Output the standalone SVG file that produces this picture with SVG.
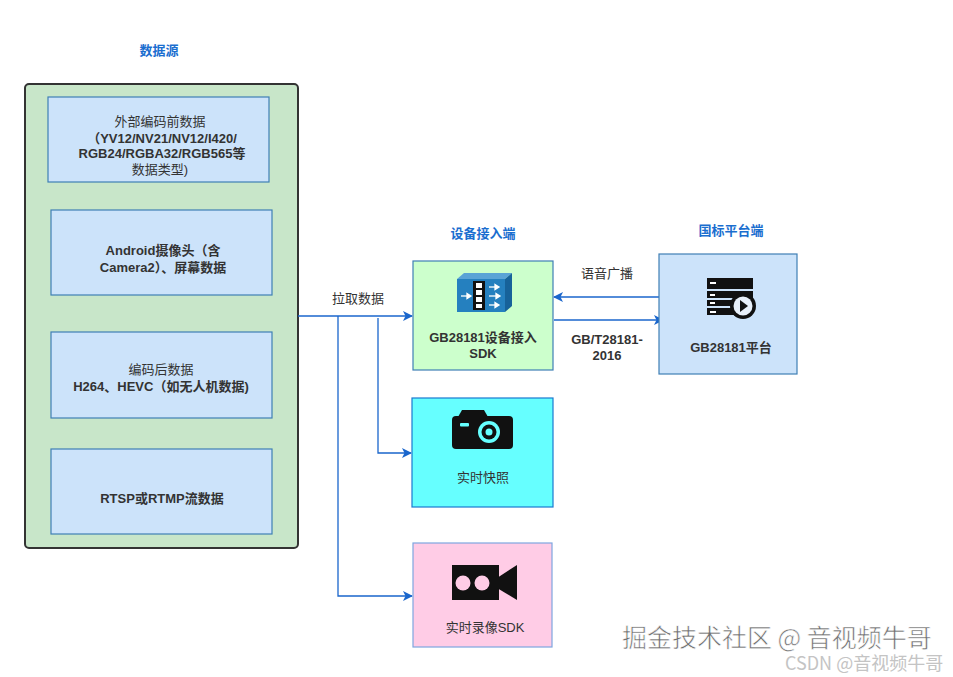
<svg xmlns="http://www.w3.org/2000/svg" width="953" height="677" viewBox="0 0 953 677">
<defs>
<style>
.t{font-family:"Liberation Sans","Noto Sans CJK SC",sans-serif;font-size:13px;fill:#333;text-anchor:middle;dominant-baseline:central}
.b{font-weight:bold}
.title{font-family:"Liberation Sans","Noto Sans CJK SC",sans-serif;font-size:13px;font-weight:bold;fill:#1a6ecf;text-anchor:middle;dominant-baseline:central}
.src{fill:#cce3fa;stroke:#3f7fb5;stroke-width:1.2}
.conn{fill:none;stroke:#1a66cc;stroke-width:1.3}
.wm{font-family:"Noto Sans CJK SC","Liberation Sans",sans-serif}
</style>
<marker id="arr" viewBox="0 0 10 10" refX="9" refY="5" markerWidth="10" markerHeight="10" markerUnits="userSpaceOnUse" orient="auto">
<path d="M0,0 L10,5 L0,10 L2.5,5 Z" fill="#1a66cc"/>
</marker>
</defs>
<rect width="953" height="677" fill="#ffffff"/>

<text class="title" x="159" y="50">数据源</text>
<text class="title" x="483" y="233">设备接入端</text>
<text class="title" x="731" y="230">国标平台端</text>

<g id="datasource">
<rect x="25" y="84" width="273" height="464" rx="4" fill="#c8e6c9" stroke="#333" stroke-width="2"/>
</g>
<g id="src1">
<rect class="src" x="48" y="97" width="221" height="85"/>
<text class="t" x="160" y="121">外部编码前数据</text>
<text class="t b" x="162" y="138">（YV12/NV21/NV12/I420/</text>
<text class="t b" x="162" y="153">RGB24/RGBA32/RGB565等</text>
<text class="t" x="160" y="169">数据类型)</text>
</g>
<g id="src2">
<rect class="src" x="51" y="210" width="221" height="85"/>
<text class="t b" x="163" y="250">Android摄像头（含</text>
<text class="t b" x="163" y="267">Camera2）、屏幕数据</text>
</g>
<g id="src3">
<rect class="src" x="51" y="332" width="221" height="86"/>
<text class="t" x="161" y="369">编码后数据</text>
<text class="t b" x="161" y="386">H264、HEVC（如无人机数据)</text>
</g>
<g id="src4">
<rect class="src" x="51" y="449" width="221" height="85"/>
<text class="t b" x="162" y="498">RTSP或RTMP流数据</text>
</g>

<g id="connectors">
<path class="conn" d="M298,316 H412" marker-end="url(#arr)"/>
<path class="conn" d="M338,316 V596 H412" marker-end="url(#arr)"/>
<path class="conn" d="M378,318 V453 H411" stroke="#7aa7e0" marker-end="url(#arr)"/>
<path class="conn" d="M659,297 H554" marker-end="url(#arr)"/>
<path class="conn" d="M554,320 H663" marker-end="url(#arr)"/>
<text class="t" x="358" y="298">拉取数据</text>
<text class="t" x="607" y="273">语音广播</text>
<text class="t b" x="607" y="339">GB/T28181-</text>
<text class="t b" x="607" y="355">2016</text>
</g>

<g id="sdk">
<rect x="413" y="261" width="140" height="109" fill="#ccffcc" stroke="#3f7fb5" stroke-width="1.2"/>
<polygon points="457,279 464,273 512,273 505,279" fill="#5aa3d6"/>
<polygon points="505,279 512,273 512,306 505,312" fill="#17629a"/>
<rect x="457" y="279" width="48" height="33" fill="#2580bf"/>
<rect x="473" y="281" width="12" height="29" fill="#111"/>
<rect x="476" y="283" width="6" height="5" fill="#fff"/>
<rect x="476" y="290" width="6" height="5" fill="#fff"/>
<rect x="476" y="297" width="6" height="5" fill="#fff"/>
<rect x="476" y="304" width="6" height="4" fill="#fff"/>
<g stroke="#fff" stroke-width="1.3" fill="#fff">
<path d="M461,296 H470"/><path d="M467,293.5 L471,296 L467,298.5 Z"/>
<path d="M489,287 H498"/><path d="M495,284.5 L499,287 L495,289.5 Z"/>
<path d="M489,296 H499"/><path d="M496,293.5 L500,296 L496,298.5 Z"/>
<path d="M489,305 H498"/><path d="M495,302.5 L499,305 L495,307.5 Z"/>
</g>
<text class="t b" x="483" y="337">GB28181设备接入</text>
<text class="t b" x="483" y="353">SDK</text>
</g>

<g id="platform">
<rect x="659" y="254" width="138" height="120" fill="#cce3fa" stroke="#3f7fb5" stroke-width="1.2"/>
<rect x="707" y="278" width="46" height="11" fill="#111"/>
<rect x="707" y="291" width="46" height="7" fill="#111"/>
<rect x="707" y="300" width="28" height="6" fill="#111"/>
<rect x="707" y="308" width="28" height="7" fill="#111"/>
<g fill="#fff">
<rect x="710" y="282" width="6" height="2"/>
<rect x="710" y="294" width="5" height="2"/>
<rect x="710" y="302" width="5" height="2"/>
<rect x="710" y="311" width="6" height="2"/>
</g>
<circle cx="743" cy="306" r="13" fill="#111"/>
<circle cx="743" cy="306" r="9.5" fill="#e8f0fa"/>
<polygon points="740,300 748,306 740,312" fill="#111"/>
<text class="t b" x="731" y="347">GB28181平台</text>
</g>

<g id="snapshot">
<rect x="412" y="398" width="141" height="109" fill="#66ffff" stroke="#1a7ad0" stroke-width="1.2"/>
<path d="M458,417 L462,410 H484 L488,417 Z" fill="#111"/>
<rect x="452" y="416" width="61" height="33" rx="4" fill="#111"/>
<rect x="460" y="423" width="9" height="3.5" rx="1" fill="#66ffff"/>
<circle cx="489" cy="432" r="11" fill="#66ffff"/>
<circle cx="489" cy="432" r="7.5" fill="#111"/>
<circle cx="489" cy="432" r="3.5" fill="#66ffff"/>
<text class="t" x="483" y="477">实时快照</text>
</g>

<g id="record">
<rect x="413" y="543" width="139" height="104" fill="#ffcce6" stroke="#7ea6e0" stroke-width="1.2"/>
<rect x="452" y="565" width="47" height="35" fill="#111"/>
<polygon points="497,578 517,565 517,600 497,588" fill="#111"/>
<circle cx="463" cy="583" r="7.5" fill="#ffcce6"/>
<circle cx="482" cy="583" r="7.5" fill="#ffcce6"/>
<text class="t" x="485" y="627">实时录像SDK</text>
</g>

<text class="wm" x="622" y="647" font-size="25" fill="#6e6e6e" stroke="#ffffff" stroke-width="0.6">掘金技术社区 @ 音视频牛哥</text>
<text class="wm" x="785" y="670" font-size="18" fill="#c4c4c4">CSDN @音视频牛哥</text>
</svg>
